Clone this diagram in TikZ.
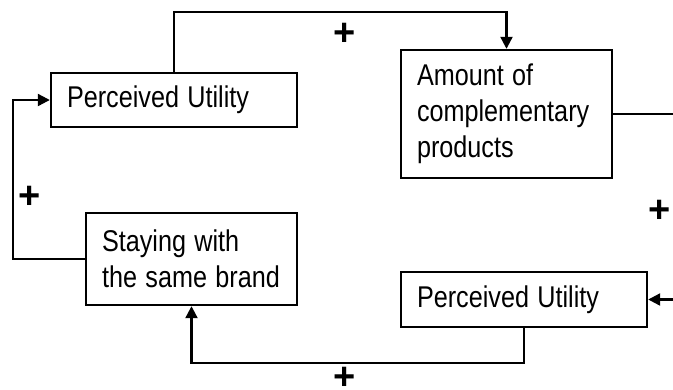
\documentclass[tikz,border=0pt]{standalone}
\usepackage{fontspec}
\usepackage{graphicx}
\setmainfont{Liberation Sans}
\usetikzlibrary{arrows.meta}
% narrow setting of a single line of box text
\newcommand\narrowline[1]{\scalebox{0.84}[1]{#1}}

\begin{document}
\begin{tikzpicture}[x=1pt,y=-1pt,
  box/.style={draw, line width=2.4pt, rectangle, inner xsep=16pt, inner ysep=0pt,
    align=left, font=\fontsize{30}{36}\selectfont},
  link/.style={line width=2.2pt},
  tip/.style={-{Triangle[length=12pt,width=12pt]}},
  sign/.style={inner sep=0pt, font=\fontsize{38}{38}\selectfont\bfseries}]
  \useasboundingbox (0,0) rectangle (673,389);

  % the four boxes
  \node[box, minimum width=246pt, minimum height=54pt, text width=214pt]
    (pu1) at (174,100) {\narrowline{Perceived Utility}};
  \node[box, minimum width=211pt, minimum height=128pt, text width=179pt]
    (amt) at (506.5,114) {\narrowline{Amount of}\\\narrowline{complementary}\\\narrowline{products}};
  \node[box, minimum width=211pt, minimum height=92pt, text width=179pt]
    (stay) at (191.5,259) {\narrowline{Staying with}\\\narrowline{the same brand}};
  \node[box, minimum width=246pt, minimum height=55pt, text width=214pt]
    (pu2) at (524,299.5) {\narrowline{Perceived Utility}};

  % routing points
  \coordinate (top) at (0,12);
  \coordinate (left) at (13,0);
  \coordinate (bot) at (0,363);
  \coordinate (outA) at (673,114);
  \coordinate (inB) at (673,299.5);

  % connectors
  \draw[link, tip] (pu1.north) -- (pu1.north |- top) -| (amt.north);
  \draw[link] (amt.east) -- (outA);
  \draw[link, tip] (inB) -- (pu2.east);
  \draw[link, tip] (pu2.south) -- (pu2.south |- bot) -| (stay.south);
  \draw[link, tip] (stay.west) -- (stay.west -| left) -- (pu1.west -| left) -- (pu1.west);

  % polarity signs
  \node[sign] (s1) at (345,34) {+};
  \node[sign] (s2) at (30,197) {+};
  \node[sign] (s3) at (660,211) {+};
  \node[sign] (s4) at (345,378) {+};
\end{tikzpicture}
\end{document}
